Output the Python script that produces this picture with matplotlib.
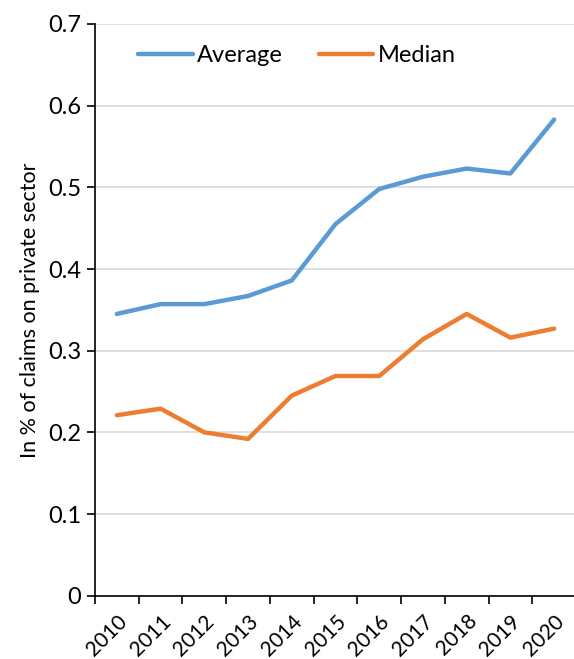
import matplotlib
matplotlib.use("Agg")
import matplotlib.pyplot as plt
from matplotlib.ticker import FixedLocator

plt.rcParams['font.family'] = ['Lato', 'DejaVu Sans']

years = ['2010', '2011', '2012', '2013', '2014', '2015',
         '2016', '2017', '2018', '2019', '2020']
average = [0.345, 0.357, 0.357, 0.367, 0.386, 0.455,
           0.498, 0.513, 0.523, 0.517, 0.583]
median = [0.221, 0.229, 0.200, 0.192, 0.245, 0.269,
          0.269, 0.314, 0.345, 0.316, 0.327]
y_ticks = [0, 0.1, 0.2, 0.3, 0.4, 0.5, 0.6, 0.7]

BLUE = '#5B9BD5'
ORANGE = '#ED7D31'


def main():
    fig = plt.figure(figsize=(5.74, 6.59), dpi=100)
    ax = fig.add_axes([95 / 574, 63.3 / 659, 481 / 574, 571.7 / 659])

    x = list(range(len(years)))
    ax.plot(x, average, color=BLUE, lw=3.2, solid_capstyle='round',
            solid_joinstyle='round', label='Average')
    ax.plot(x, median, color=ORANGE, lw=3.2, solid_capstyle='round',
            solid_joinstyle='round', label='Median')

    ax.set_xlim(-0.5, len(years) - 0.5)
    ax.set_ylim(0, 0.7)
    ax.set_yticks(y_ticks)
    ax.set_yticklabels([f'{v:g}' for v in y_ticks])
    ax.yaxis.grid(True, color='#D9D9D9', lw=1.2)
    ax.set_axisbelow(True)

    # labels sit on the categories, tick marks between them
    ax.set_xticks(x)
    ax.set_xticklabels(years, rotation=45, ha='right', rotation_mode='anchor')
    ax.xaxis.set_minor_locator(FixedLocator([i - 0.5 for i in range(len(years) + 1)]))
    ax.tick_params(axis='x', which='major', length=0, pad=11, labelsize=15)
    ax.tick_params(axis='x', which='minor', length=6, width=1.2, color='black')
    ax.tick_params(axis='y', length=6, width=1.2, labelsize=17, pad=4)

    for side in ['top', 'right']:
        ax.spines[side].set_visible(False)
    ax.spines['left'].set_linewidth(1.2)
    ax.spines['bottom'].set_linewidth(1.2)

    ax.set_ylabel('In % of claims on private sector', fontsize=15.5, labelpad=6)

    ax.legend(loc='upper center', bbox_to_anchor=(0.42, 1.0), ncol=2,
              frameon=False, fontsize=17, handlelength=2.3, handletextpad=0.2,
              columnspacing=1.5)

    fig.savefig('out.png', dpi=100)


if __name__ == "__main__":
    main()
